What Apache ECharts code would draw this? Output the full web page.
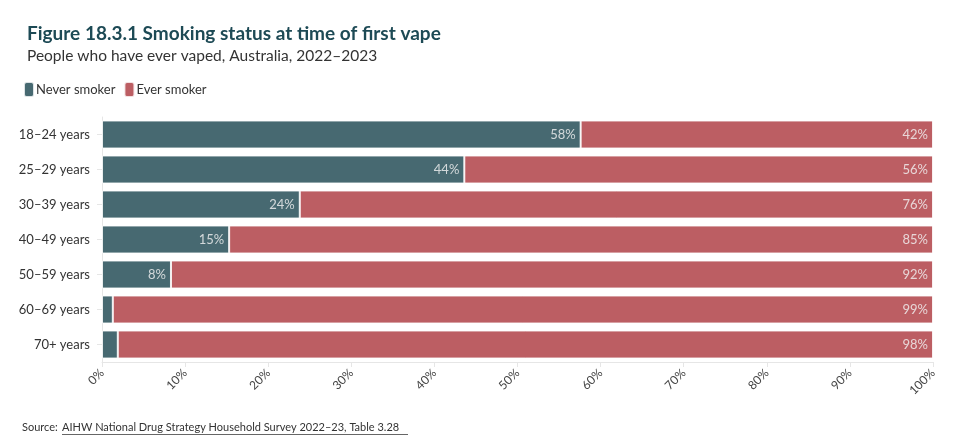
<!DOCTYPE html>
<html><head><meta charset="utf-8">
<script src="https://cdn.jsdelivr.net/npm/echarts@6/dist/echarts.min.js"></script>
<style>html,body{margin:0;padding:0;background:#fff}#c{width:967px;height:440px}</style>
</head><body><div id="c"></div>
<script>
const categories = ['18–24 years','25–29 years','30–39 years','40–49 years','50–59 years','60–69 years','70+ years'];
const neverSmoker = [57.6,43.6,23.8,15.3,8.3,1.3,1.9];
const everSmoker = [42.4,56.4,76.2,84.7,91.7,98.7,98.1];
const xTicks = [0,10,20,30,40,50,60,70,80,90,100];

const FONT = 'Lato, "Noto Sans", sans-serif';
const chart = echarts.init(document.getElementById('c'));
const lbl = {show:true, position:'insideRight', color:'#f2f2f2', fontSize:13, fontFamily:FONT,
  formatter: p => p.value >= 5 ? Math.round(p.value) + '%' : ''};
chart.setOption({
  animation:false,
  textStyle:{fontFamily:FONT},
  title:{left:22, top:19, text:'Figure 18.3.1 Smoking status at time of first vape',
    textStyle:{fontSize:19, fontWeight:'bold', color:'#1d4a55', fontFamily:FONT},
    subtext:'People who have ever vaped, Australia, 2022–2023', itemGap:5,
    subtextStyle:{fontSize:15.5, color:'#333', fontFamily:FONT}},
  legend:{left:18, top:76, icon:'roundRect', itemWidth:10, itemHeight:15, itemGap:8,
    textStyle:{fontSize:13, color:'#333', fontFamily:FONT, padding:[0,0,0,-3]},
    data:['Never smoker','Ever smoker']},
  grid:{left:102, right:34, top:117, bottom:78},
  xAxis:{type:'value', min:0, max:100, interval:10,
    axisLine:{show:true, lineStyle:{color:'#e6e6e6'}},
    axisTick:{show:true, length:5, lineStyle:{color:'#e6e6e6'}},
    splitLine:{show:false},
    axisLabel:{rotate:45, color:'#444', fontSize:12, margin:9, formatter:v=>v+'%'}},
  yAxis:{type:'category', data:categories, inverse:true,
    axisLine:{show:true, lineStyle:{color:'#e6e6e6'}},
    axisTick:{show:true, length:5, alignWithLabel:true, lineStyle:{color:'#e6e6e6'}},
    axisLabel:{color:'#333', fontSize:13, margin:12}},
  series:[
    {name:'Never smoker', type:'bar', stack:'s', data:neverSmoker, barCategoryGap:'20%',
      itemStyle:{color:'#1e4852', opacity:0.82, borderColor:'#fff', borderWidth:1}, label:lbl},
    {name:'Ever smoker', type:'bar', stack:'s', data:everSmoker,
      itemStyle:{color:'#ad3a41', opacity:0.82, borderColor:'#fff', borderWidth:1}, label:lbl}
  ],
  graphic:[
    {type:'text', left:22, top:422, style:{text:'Source: ', fontSize:11, fill:'#333', fontFamily:FONT}},
    {type:'text', left:62, top:422, style:{text:'AIHW National Drug Strategy Household Survey 2022–23, Table 3.28', fontSize:11, fill:'#333', fontFamily:FONT}},
    {type:'rect', left:62, top:434, shape:{width:346, height:0.8}, style:{fill:'#333'}}
  ]
});
</script></body></html>
